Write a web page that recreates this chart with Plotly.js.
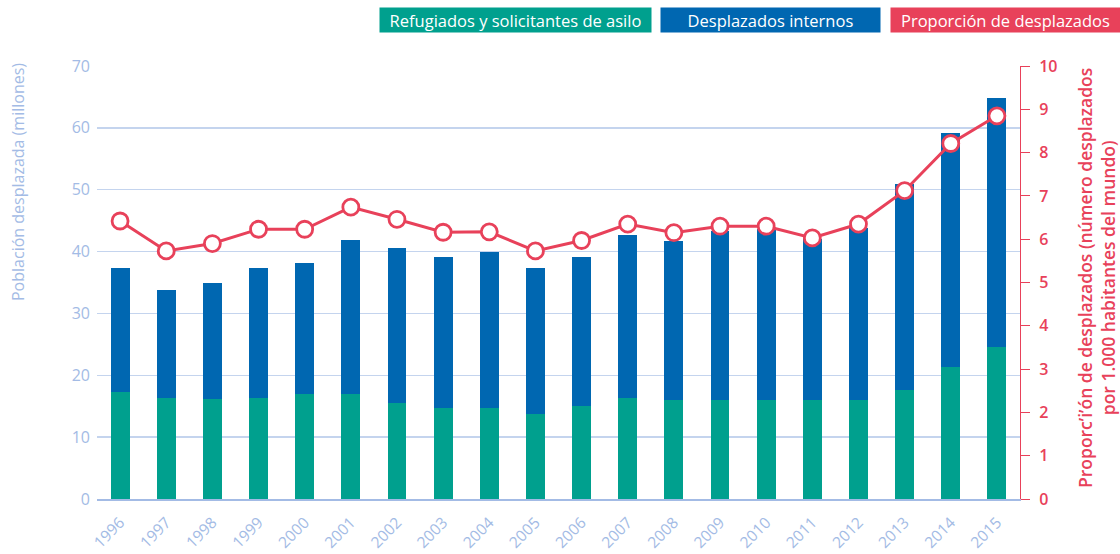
<!DOCTYPE html>
<html>
<head>
<meta charset="utf-8">
<script src="https://cdn.plot.ly/plotly-3.0.1.min.js"></script>
<style>html,body{margin:0;padding:0;background:#fff;}#chart{width:1120px;height:554px;}</style>
</head>
<body>
<div id="chart"></div>
<script>
var years = ['1996','1997','1998','1999','2000','2001','2002','2003','2004','2005','2006','2007','2008','2009','2010','2011','2012','2013','2014','2015'];
var refugiados = [17.3,16.4,16.1,16.4,16.9,16.9,15.6,14.7,14.7,13.7,15.1,16.4,16.0,16.0,16.0,16.0,16.0,17.7,21.3,24.5];
var totalDesplazados = [37.3,33.8,35.0,37.3,38.2,41.8,40.5,39.1,40.0,37.3,39.1,42.6,41.7,43.4,43.6,42.0,43.8,51.0,59.2,64.9];
var internos = totalDesplazados.map(function(t,i){ return +(t - refugiados[i]).toFixed(1); });
var proporcion = [6.42,5.73,5.9,6.23,6.23,6.74,6.46,6.16,6.17,5.73,5.97,6.35,6.15,6.3,6.3,6.03,6.35,7.12,8.21,8.85];

var GREEN = '#00a08e', BLUE = '#0067b1', RED = '#e8415a', LBLUE = '#a3bbe5', GRID = '#c4d4ee';
var FONT = 'Open Sans, sans-serif';

var traces = [
  {type:'bar', x:years, y:refugiados, name:'Refugiados y solicitantes de asilo', marker:{color:GREEN}},
  {type:'bar', x:years, y:internos, name:'Desplazados internos', marker:{color:BLUE}},
  {type:'scatter', mode:'lines+markers', x:years, y:proporcion, yaxis:'y2', name:'Proporción de desplazados',
   line:{color:RED, width:3}, marker:{size:16, color:'#ffffff', line:{color:RED, width:2.8}}}
];

function px2x(p){ return (p-97)/923; }
function py2y(p){ return (499-p)/433; }

function box(cx, w, txt, col){
  return {xref:'paper', yref:'paper', x:px2x(cx), y:py2y(20), xanchor:'center', yanchor:'middle',
          text:txt, showarrow:false, bgcolor:col, width:w, height:24, borderpad:0,
          font:{size:16.5, color:'#ffffff', family:FONT}};
}

var layout = {
  width:1120, height:554,
  margin:{l:97, r:100, t:66, b:55},
  paper_bgcolor:'#ffffff', plot_bgcolor:'#ffffff',
  barmode:'stack', bargap:0.59,
  showlegend:false,
  font:{family:FONT, color:LBLUE, size:15},
  xaxis:{type:'category', tickangle:-45, tickfont:{size:15.5, color:LBLUE}, showline:true, linecolor:LBLUE, linewidth:1.5,
         ticks:'', showgrid:false, range:[-0.5,19.5], ticklabelstandoff:7},
  yaxis:{range:[0,70], dtick:10, showgrid:true, gridcolor:GRID, gridwidth:1.5, zeroline:false,
         tickfont:{size:16, color:LBLUE}, ticks:'', ticklabelstandoff:6},
  yaxis2:{overlaying:'y', side:'right', range:[0,10], dtick:1, showgrid:false, zeroline:false,
          showline:true, linecolor:RED, linewidth:1, ticks:'outside', ticklen:9, tickcolor:RED,
          tickfont:{size:16, color:RED, weight:600}, ticklabelstandoff:6},
  annotations:[
    {xref:'paper', yref:'paper', x:px2x(18), y:py2y(182), xanchor:'center', yanchor:'middle',
     text:'Población desplazada (millones)', textangle:-90,
     showarrow:false, font:{size:16, color:LBLUE, family:FONT}},
    {xref:'paper', yref:'paper', x:px2x(1096), y:py2y(278), xanchor:'center', yanchor:'middle',
     text:'Proporc’i’ón de desplazados (número desplazados<br>por 1.000 habitantes del mundo)', textangle:-90,
     showarrow:false, font:{size:17.5, color:RED, family:FONT, weight:600}},
    box(515.5, 271, 'Refugiados y solicitantes de asilo', GREEN),
    box(770.5, 219, 'Desplazados internos', BLUE),
    box(1005.5, 229, 'Proporción de desplazados', RED)
  ]
};

Plotly.newPlot('chart', traces, layout, {displayModeBar:false, staticPlot:true});
</script>
</body>
</html>
